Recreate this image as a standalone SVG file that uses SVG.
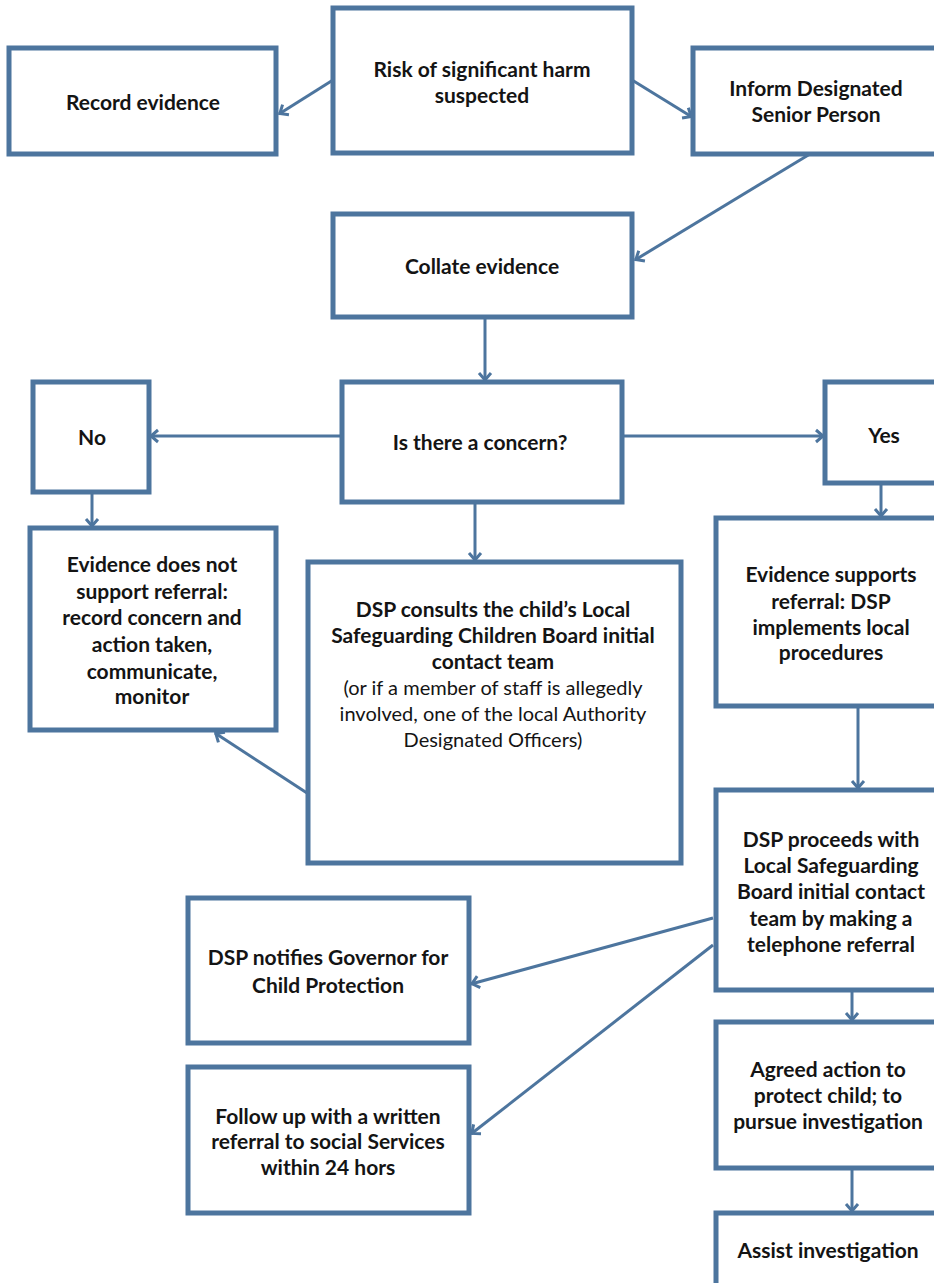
<svg xmlns="http://www.w3.org/2000/svg" width="934" height="1283" viewBox="0 0 934 1283">
<style>
.box{fill:#ffffff;stroke:#4d759e;stroke-width:5}
.t{font-family:Lato,"Liberation Sans",sans-serif;font-weight:bold;font-size:21px;fill:#141414;text-anchor:middle}
.n{font-family:Lato,"Liberation Sans",sans-serif;font-weight:normal;font-size:20px;fill:#141414;text-anchor:middle}
.c{fill:none;stroke:#4d759e;stroke-width:3;marker-end:url(#arr)}
</style>
<defs>
<marker id="arr" markerUnits="userSpaceOnUse" markerWidth="16" markerHeight="16" refX="11" refY="8" orient="auto">
<path d="M3,2 L10,8 L3,14" fill="none" stroke="#4d759e" stroke-width="3"/>
</marker>
</defs>
<rect width="934" height="1283" fill="#ffffff"/>
<g id="connectors">
<line class="c" x1="333" y1="80" x2="279" y2="114"/>
<line class="c" x1="632" y1="80" x2="692" y2="117"/>
<line class="c" x1="810" y1="154" x2="635" y2="260"/>
<line class="c" x1="485" y1="317" x2="485" y2="381"/>
<line class="c" x1="342" y1="436" x2="150" y2="436"/>
<line class="c" x1="622" y1="436" x2="824" y2="436"/>
<line class="c" x1="92" y1="492" x2="92" y2="527"/>
<line class="c" x1="475" y1="502" x2="475" y2="561"/>
<line class="c" x1="881" y1="483" x2="881" y2="517"/>
<line class="c" x1="307" y1="793" x2="215" y2="733"/>
<line class="c" x1="858" y1="706" x2="858" y2="789"/>
<line class="c" x1="713" y1="918" x2="471" y2="984"/>
<line class="c" x1="713" y1="945" x2="471" y2="1134"/>
<line class="c" x1="852" y1="990" x2="852" y2="1021"/>
<line class="c" x1="852" y1="1168" x2="852" y2="1212"/>
</g>
<g id="risk"><rect class="box" x="333" y="8" width="299" height="145"/>
<text class="t" x="482" y="77">Risk of significant harm</text><text class="t" x="482" y="103">suspected</text></g>
<g id="record"><rect class="box" x="9" y="48" width="267" height="106"/>
<text class="t" x="143" y="110">Record evidence</text></g>
<g id="inform"><rect class="box" x="693" y="48" width="250" height="106"/>
<text class="t" x="816" y="96">Inform Designated</text><text class="t" x="816" y="122">Senior Person</text></g>
<g id="collate"><rect class="box" x="333" y="214" width="299" height="103"/>
<text class="t" x="482" y="274">Collate evidence</text></g>
<g id="isthere"><rect class="box" x="342" y="382" width="280" height="120"/>
<text class="t" x="480" y="450">Is there a concern?</text></g>
<g id="no"><rect class="box" x="33" y="382" width="116" height="110"/>
<text class="t" x="92" y="445">No</text></g>
<g id="yes"><rect class="box" x="825" y="382" width="120" height="101"/>
<text class="t" x="884" y="443">Yes</text></g>
<g id="evnot"><rect class="box" x="30" y="528" width="246" height="202"/>
<text class="t" x="152" y="572">Evidence does not</text>
<text class="t" x="152" y="599">support referral:</text>
<text class="t" x="152" y="625">record concern and</text>
<text class="t" x="152" y="652">action taken,</text>
<text class="t" x="152" y="679">communicate,</text>
<text class="t" x="152" y="704">monitor</text></g>
<g id="consult"><rect class="box" x="308" y="562" width="373" height="301"/>
<text class="t" x="493" y="617">DSP consults the child’s Local</text>
<text class="t" x="493" y="643">Safeguarding Children Board initial</text>
<text class="t" x="493" y="669">contact team</text>
<text class="n" x="493" y="695">(or if a member of staff is allegedly</text>
<text class="n" x="493" y="721">involved, one of the local Authority</text>
<text class="n" x="493" y="747">Designated Officers)</text></g>
<g id="evsup"><rect class="box" x="716" y="518" width="230" height="188"/>
<text class="t" x="831" y="582">Evidence supports</text>
<text class="t" x="831" y="609">referral: DSP</text>
<text class="t" x="831" y="635">implements local</text>
<text class="t" x="831" y="660">procedures</text></g>
<g id="proceeds"><rect class="box" x="716" y="790" width="230" height="200"/>
<text class="t" x="831" y="847">DSP proceeds with</text>
<text class="t" x="831" y="873">Local Safeguarding</text>
<text class="t" x="831" y="899">Board initial contact</text>
<text class="t" x="831" y="926">team by making a</text>
<text class="t" x="831" y="952">telephone referral</text></g>
<g id="notifies"><rect class="box" x="188" y="898" width="281" height="145"/>
<text class="t" x="328" y="965">DSP notifies Governor for</text>
<text class="t" x="328" y="993">Child Protection</text></g>
<g id="followup"><rect class="box" x="188" y="1067" width="281" height="146"/>
<text class="t" x="328" y="1124">Follow up with a written</text>
<text class="t" x="328" y="1149">referral to social Services</text>
<text class="t" x="328" y="1175">within 24 hors</text></g>
<g id="agreed"><rect class="box" x="716" y="1022" width="230" height="146"/>
<text class="t" x="828" y="1077">Agreed action to</text>
<text class="t" x="828" y="1103">protect child; to</text>
<text class="t" x="828" y="1129">pursue investigation</text></g>
<g id="assist"><rect class="box" x="716" y="1213" width="230" height="85"/>
<text class="t" x="828" y="1258">Assist investigation</text></g>
</svg>
